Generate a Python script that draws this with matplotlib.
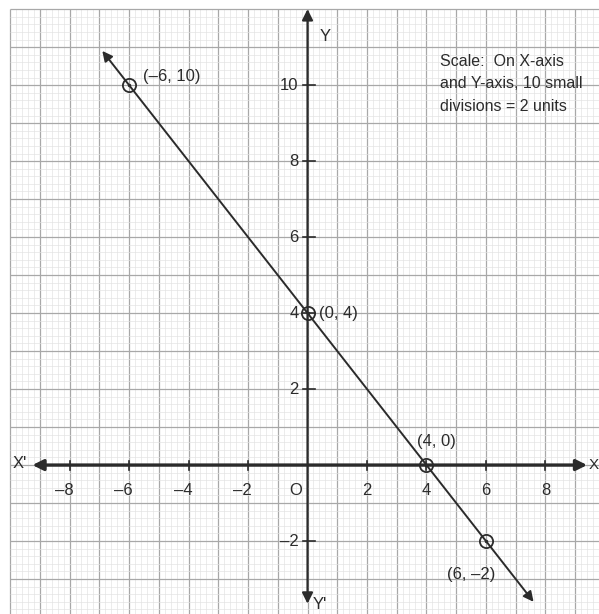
import numpy as np
import matplotlib.pyplot as plt

plt.rcParams['font.family'] = ['Liberation Sans', 'DejaVu Sans']

# points on the line x + y = 4
pt_x = [-6, 0, 4, 6]
pt_y = [10, 4, 0, -2]
pt_labels = ['(\u20136, 10)', '(0, 4)', '(4, 0)', '(6, \u20132)']

# ends of the drawn line (arrow tips)
line_start = (-6.9, 10.9)
line_end = (7.6, -3.6)

xticks = [-8, -6, -4, -2, 2, 4, 6, 8]
yticks = [-2, 2, 4, 6, 8, 10]

ink = '#2b2b2b'
fs = 12

fig = plt.figure(figsize=(5.99, 6.14), dpi=100)
ax = fig.add_axes([0, 0, 1, 1])
ax.set_xlim(-10.34, 9.80)
ax.set_ylim(-3.92, 12.24)
ax.axis('off')

# graph paper: 5 small divisions per unit
gx0, gx1, gy0, gy1 = -10, 9.8, -3.92, 12.0
for v in np.round(np.arange(-10, 9.81, 0.2), 2):
    major = abs(v - round(v)) < 1e-6
    ax.vlines(v, gy0, gy1, color='#a8a8a8' if major else '#e2e2e2',
              lw=0.9 if major else 0.45, zorder=1)
for h in np.round(np.arange(-3.8, 12.01, 0.2), 2):
    major = abs(h - round(h)) < 1e-6
    ax.hlines(h, gx0, gx1, color='#a8a8a8' if major else '#e2e2e2',
              lw=0.9 if major else 0.45, zorder=1)

# axes with arrow heads
ax.annotate('', xy=(9.4, 0), xytext=(-9.25, 0),
            arrowprops=dict(arrowstyle='<|-|>', color=ink, lw=2.4,
                            mutation_scale=16, shrinkA=0, shrinkB=0), zorder=3)
ax.annotate('', xy=(0, 12.0), xytext=(0, -3.65),
            arrowprops=dict(arrowstyle='<|-|>', color=ink, lw=1.6,
                            mutation_scale=16, shrinkA=0, shrinkB=0), zorder=3)

# tick marks and tick labels
for t in xticks:
    ax.plot([t, t], [-0.12, 0.12], color=ink, lw=1.2, zorder=3)
    dx = -4 if t < 0 else 0
    ax.annotate(str(t).replace('-', '\u2013'), (t, -0.68), xytext=(dx, 0),
                textcoords='offset points', ha='center', va='center',
                fontsize=fs, color=ink)
ax.text(-0.39, -0.68, 'O', ha='center', va='center', fontsize=fs, color=ink)
for t in yticks:
    ax.plot([-0.16, 0.25], [t, t], color=ink, lw=1.2, zorder=3)
    ax.text(-0.3, t, str(t).replace('-', '\u2013'), ha='right', va='center',
            fontsize=fs, color=ink)

# axis names
ax.text(-9.93, 0.05, "X'", ha='left', va='center', fontsize=fs, color=ink)
ax.text(9.45, 0.0, 'X', ha='left', va='center', fontsize=11, color=ink)
ax.text(0.42, 11.29, 'Y', ha='left', va='center', fontsize=fs, color=ink)
ax.text(0.17, -3.68, "Y'", ha='left', va='center', fontsize=fs, color=ink)

# the line and its plotted points
ax.annotate('', xy=line_start, xytext=line_end,
            arrowprops=dict(arrowstyle='<|-|>', color=ink, lw=1.4,
                            mutation_scale=15, shrinkA=0, shrinkB=0), zorder=4)
ax.plot(pt_x, pt_y, 'o', ms=9.5, mfc='none', mec=ink, mew=1.3, zorder=5)
ax.plot(pt_x, pt_y, '.', ms=3, color=ink, zorder=5)

label_offsets = [(10, 6), (8, 0), (7, 17), (-11, -24)]
label_ha = ['left', 'left', 'center', 'center']
for x, y, s, off, ha in zip(pt_x, pt_y, pt_labels, label_offsets, label_ha):
    ax.annotate(s, (x, y), xytext=off, textcoords='offset points',
                ha=ha, va='center', fontsize=fs, color=ink, zorder=6)

ax.text(4.45, 10.82, 'Scale:  On X-axis\nand Y-axis, 10 small\ndivisions = 2 units',
        ha='left', va='top', fontsize=11.5, color=ink, linespacing=1.62)

plt.savefig('out.png', dpi=100)
